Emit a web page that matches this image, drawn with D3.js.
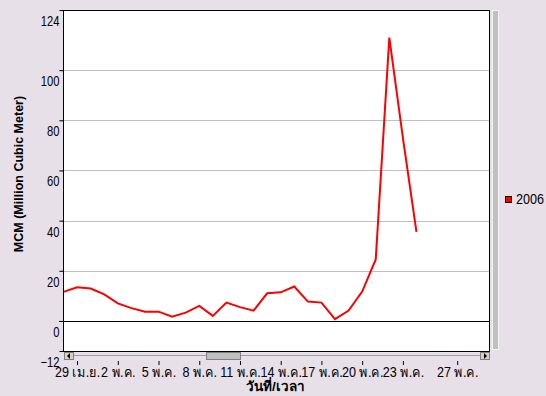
<!DOCTYPE html>
<html>
<head>
<meta charset="utf-8">
<script src="https://cdn.jsdelivr.net/npm/d3@7"></script>
<style>
    body { margin: 0; background: #e8e0e8; }
    svg { display: block; }
    .tick text, .legend text { font-family: "Liberation Sans", Arial, sans-serif; font-size: 14px; fill: #000; }
</style>
</head>
<body>
<div id="chart"></div>
<script>
// daily volume, 28 Apr - 24 May 2006
const days = ['2006-04-28', '2006-04-29', '2006-04-30', '2006-05-01', '2006-05-02', '2006-05-03',
    '2006-05-04', '2006-05-05', '2006-05-06', '2006-05-07', '2006-05-08', '2006-05-09', '2006-05-10',
    '2006-05-11', '2006-05-12', '2006-05-13', '2006-05-14', '2006-05-15', '2006-05-16', '2006-05-17',
    '2006-05-18', '2006-05-19', '2006-05-20', '2006-05-21', '2006-05-22', '2006-05-23', '2006-05-24'];
const volumes = [11.6, 13.4, 12.9, 10.6, 7.0, 5.1, 3.7, 3.7, 1.7, 3.3, 6.0, 2.0, 7.3,
    5.5, 4.1, 11.0, 11.4, 13.7, 7.7, 7.3, 0.7, 4.1, 11.7, 24.5, 113, 73, 35.5];
const seriesName = '2006';

const xTicks = ['2006-04-29', '2006-05-02', '2006-05-05', '2006-05-08', '2006-05-11',
    '2006-05-14', '2006-05-17', '2006-05-20', '2006-05-23', '2006-05-27'];
const xTickLabels = ['29 เม.ย.', '2 พ.ค.', '5 พ.ค.', '8 พ.ค.', '11 พ.ค.',
    '14 พ.ค.', '17 พ.ค.', '20 พ.ค.', '23 พ.ค.', '27 พ.ค.'];
const yTicks = [-12, 0, 20, 40, 60, 80, 100, 124];
const yGrid = [20, 40, 60, 80, 100];

const parse = d3.timeParse('%Y-%m-%d');
const dim = { width: 546, height: 396, left: 63, right: 490, top: 10, bottom: 351 };
const narrowY = 0.8;  // the original font is a condensed one
const narrowX = 0.9;

const data = days.map((d, i) => ({ date: parse(d), value: volumes[i] }));

const x = d3.scaleTime()
    .domain([parse('2006-04-28'), new Date(2006, 4, 29, 10)])
    .range([dim.left + 0.5, dim.right]);

const y = d3.scaleLinear()
    .domain([-12, 124])
    .range([dim.bottom, dim.top]);

const svg = d3.select('#chart')
    .append('svg')
        .attr('width', dim.width)
        .attr('height', dim.height);

// plot background
svg.append('rect')
    .attr('x', dim.left).attr('y', dim.top)
    .attr('width', dim.right - dim.left).attr('height', dim.bottom - dim.top)
    .attr('fill', '#fff');

svg.selectAll('.grid')
    .data(yGrid)
    .enter()
    .append('line')
        .attr('class', 'grid')
        .attr('x1', dim.left - 4).attr('x2', dim.right)
        .attr('y1', d => Math.round(y(d)) + 0.5).attr('y2', d => Math.round(y(d)) + 0.5)
        .attr('stroke', '#c0c0c0');

svg.append('line')
    .attr('x1', dim.left - 4).attr('x2', dim.right)
    .attr('y1', Math.round(y(0)) + 0.5).attr('y2', Math.round(y(0)) + 0.5)
    .attr('stroke', '#000');

svg.append('path')
    .datum(data)
    .attr('fill', 'none')
    .attr('stroke', '#ff0000')
    .attr('stroke-width', 2)
    .attr('d', d3.line()
        .x(d => x(d.date))
        .y(d => y(d.value)));

svg.append('rect')
    .attr('x', dim.left + 0.5).attr('y', dim.top + 0.5)
    .attr('width', dim.right - dim.left - 1).attr('height', dim.bottom - dim.top)
    .attr('fill', 'none')
    .attr('stroke', '#000');

// y axis
const yAxis = svg.append('g')
    .attr('transform', `translate(${dim.left + 0.5}, 0)`)
    .call(d3.axisLeft(y).tickValues(yTicks).tickSize(4).tickPadding(0));
yAxis.select('.domain').remove();
yAxis.selectAll('.tick line').attr('stroke', '#000');
yAxis.selectAll('.tick text')
    .attr('x', -4 / narrowY)
    .attr('dy', '1.1em')
    .attr('transform', `scale(${narrowY}, 1)`);

// horizontal scrollbar
const sb = svg.append('g').attr('transform', `translate(0, ${dim.bottom + 1})`);
sb.append('line')
    .attr('x1', dim.left + 10).attr('x2', dim.right - 10)
    .attr('y1', 3.5).attr('y2', 3.5)
    .attr('stroke', '#a0a0a0');
sb.append('rect')
    .attr('x', 206.5).attr('y', 0.5).attr('width', 34).attr('height', 7)
    .attr('fill', '#c0c0c0').attr('stroke', '#808080');
[dim.left + 1, dim.right - 10].forEach((bx, i) => {
    sb.append('rect')
        .attr('x', bx + 0.5).attr('y', 0.5).attr('width', 9).attr('height', 7)
        .attr('fill', '#d4d0c8').attr('stroke', '#808080');
    const cx = bx + 5;
    const pts = i === 0
        ? [[cx - 2, 4], [cx + 1, 1], [cx + 1, 7]]
        : [[cx + 2, 4], [cx - 1, 1], [cx - 1, 7]];
    sb.append('path').attr('d', d3.line()(pts) + 'Z').attr('fill', '#000');
});

// vertical scrollbar
svg.append('rect')
    .attr('x', 492.5).attr('y', dim.top + 0.5).attr('width', 6).attr('height', dim.bottom - dim.top - 2)
    .attr('fill', '#c0c0c0').attr('stroke', '#f4f4f4');

// x axis
const xAxis = svg.append('g')
    .attr('transform', 'translate(0, 361)')
    .call(d3.axisBottom(x)
        .tickValues(xTicks.map(parse))
        .tickFormat((d, i) => xTickLabels[i])
        .tickSize(4)
        .tickPadding(2));
xAxis.select('.domain').remove();
xAxis.selectAll('.tick line').attr('stroke', '#000');
xAxis.selectAll('.tick text').attr('transform', `scale(${narrowX}, 1)`);

svg.append('text')
    .attr('x', (dim.left + dim.right) / 2 - 1)
    .attr('y', 391)
    .attr('text-anchor', 'middle')
    .attr('font-family', 'Liberation Sans, sans-serif')
    .attr('font-weight', 'bold')
    .attr('font-size', '13.5px')
    .text('วันที่/เวลา');

svg.append('text')
    .attr('transform', 'translate(23, 174) rotate(-90)')
    .attr('text-anchor', 'middle')
    .attr('font-family', 'Liberation Sans, sans-serif')
    .attr('font-weight', 'bold')
    .attr('font-size', '12.5px')
    .text('MCM (Million Cubic Meter)');

// legend
const legend = svg.append('g').attr('class', 'legend').attr('transform', 'translate(505, 196)');
legend.append('rect')
    .attr('x', 0.5).attr('y', 0.5).attr('width', 6).attr('height', 6)
    .attr('fill', '#ff0000').attr('stroke', '#000');
legend.append('text')
    .attr('x', 11 / narrowX).attr('y', 8)
    .attr('transform', `scale(${narrowX}, 1)`)
    .text(seriesName);
</script>
</body>
</html>
